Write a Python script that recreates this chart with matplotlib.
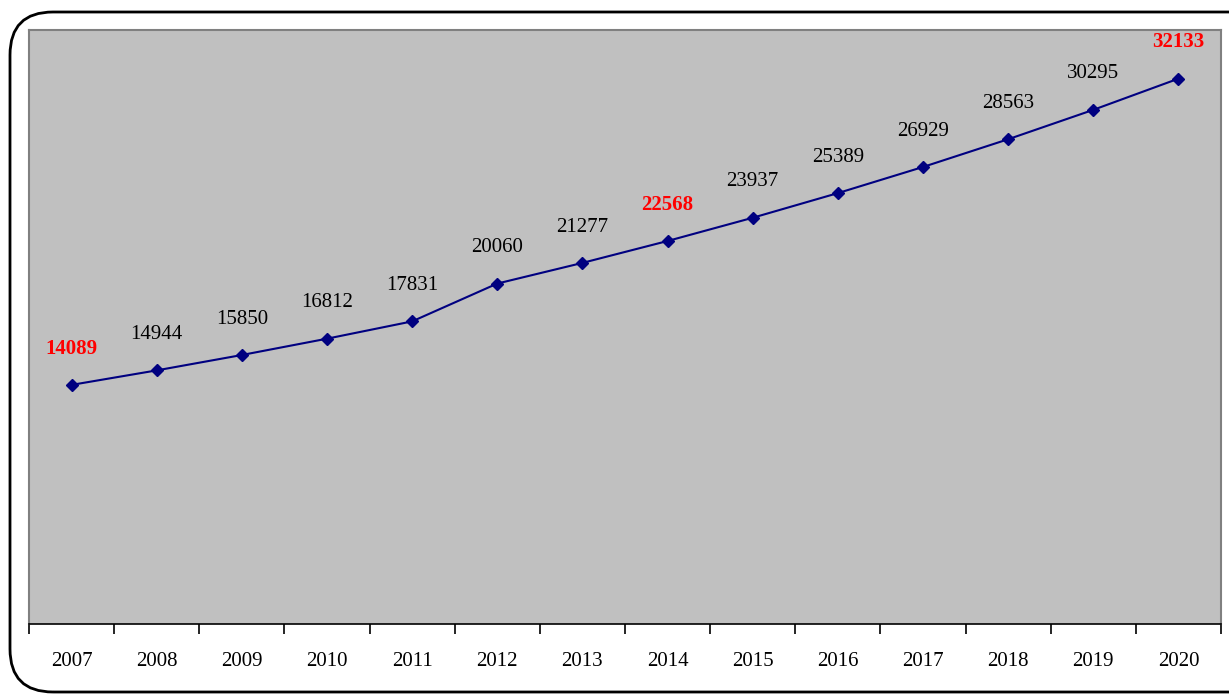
import matplotlib.pyplot as plt
from matplotlib.patches import FancyBboxPatch

# annual values
years = ['2007', '2008', '2009', '2010', '2011', '2012', '2013',
         '2014', '2015', '2016', '2017', '2018', '2019', '2020']
values = [14089, 14944, 15850, 16812, 17831, 20060, 21277,
          22568, 23937, 25389, 26929, 28563, 30295, 32133]
highlight = ['2007', '2014', '2020']

plt.rcParams['font.family'] = ['Liberation Serif', 'DejaVu Serif']

fig = plt.figure(figsize=(12.29, 6.95), dpi=100)

# rounded frame around the chart (right side runs off the figure)
frame = FancyBboxPatch((10 / 1229, 3 / 695), 1.2, 680 / 695,
                       boxstyle='round,pad=0,rounding_size=0.035',
                       transform=fig.transFigure, fill=False,
                       edgecolor='black', linewidth=2, mutation_aspect=1229 / 695)
fig.patches.append(frame)

ax = fig.add_axes([29 / 1229, 1 - 624 / 695, (1221 - 29) / 1229, (624 - 30) / 695])
ax.set_facecolor('#c0c0c0')

x = list(range(len(years)))
ax.plot(x, values, color='#000080', linewidth=1.5, marker='D', markersize=6.5)

for i, (yr, v) in enumerate(zip(years, values)):
    if yr in highlight:
        ax.annotate(str(v), (i, v), xytext=(0, 19),
                    textcoords='offset points', ha='center', va='bottom',
                    color='red', fontweight='bold', fontsize=15)
    else:
        ax.annotate(str(v), (i, v), xytext=(0, 19), textcoords='offset points',
                    ha='center', va='bottom', color='black', fontsize=15)

ax.set_xlim(-0.5, len(years) - 0.5)
ax.set_ylim(0, 35000)
ax.set_yticks([])

# ticks sit between categories, labels centered under points
ax.set_xticks([i - 0.5 for i in range(len(years) + 1)])
ax.set_xticklabels([])
ax.set_xticks(x, minor=True)
ax.set_xticklabels(years, minor=True, fontsize=15)
ax.tick_params(axis='x', which='major', direction='out', length=7, width=1.2, color='black')
ax.tick_params(axis='x', which='minor', length=0, pad=20)

for side in ['top', 'left', 'right']:
    ax.spines[side].set_color('#808080')
    ax.spines[side].set_linewidth(1.5)
ax.spines['bottom'].set_color('black')
ax.spines['bottom'].set_linewidth(1.2)

plt.savefig('out.png', dpi=100)
